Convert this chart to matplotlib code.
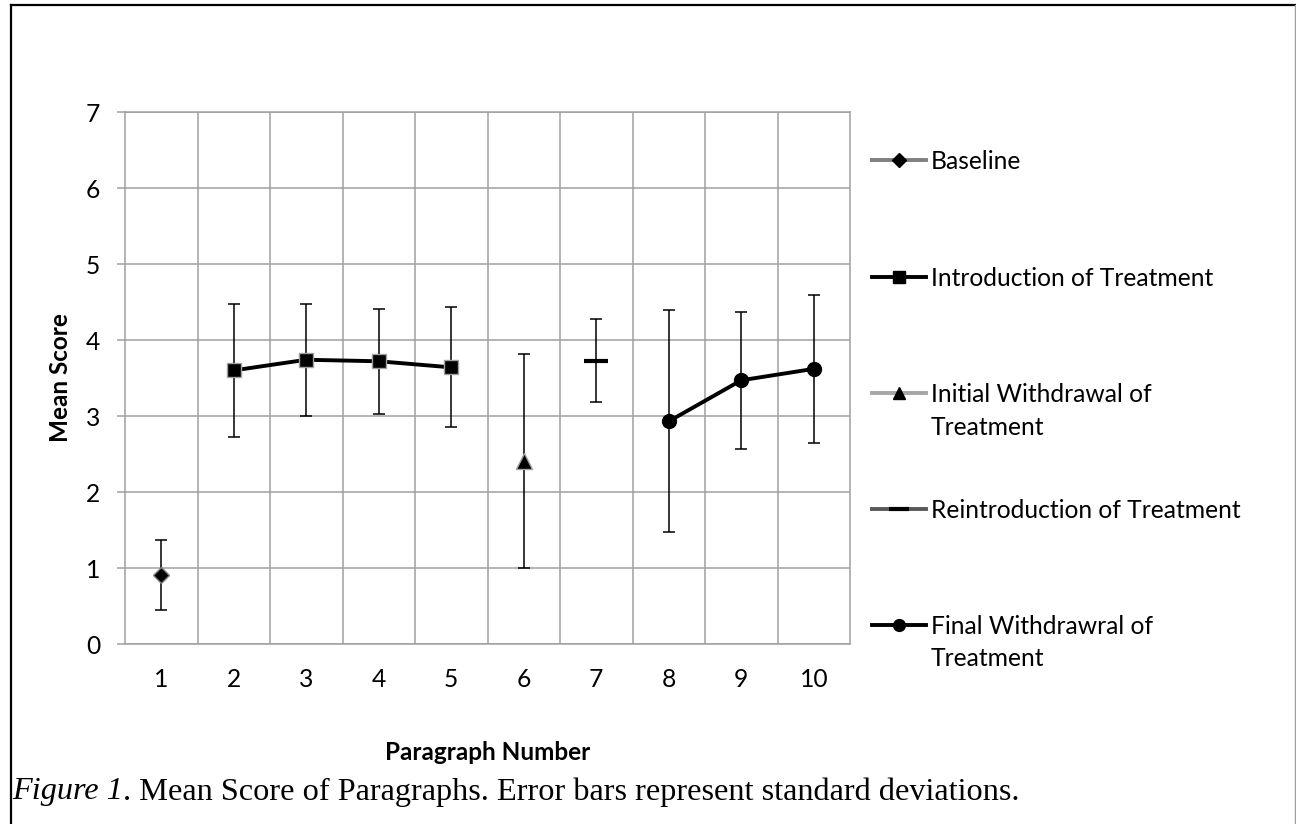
import numpy as np
import matplotlib.pyplot as plt
from matplotlib.lines import Line2D

# Data
paragraphs = [1, 2, 3, 4, 5, 6, 7, 8, 9, 10]
phase_names = ["Baseline", "Introduction of Treatment", "Initial Withdrawal of\nTreatment",
               "Reintroduction of Treatment", "Final Withdrawral of\nTreatment"]
phase_x = [[1], [2, 3, 4, 5], [6], [7], [8, 9, 10]]
phase_mean = [[0.91], [3.60, 3.74, 3.72, 3.64], [2.41], [3.73], [2.93, 3.47, 3.62]]
phase_sd = [[0.46], [0.88, 0.74, 0.69, 0.79], [1.41], [0.55], [1.46, 0.90, 0.97]]

line_colors = ["#7f7f7f", "#000000", "#a6a6a6", "#595959", "#000000"]
markers = ["D", "s", "^", "_", "o"]
marker_sizes = [8.5, 9.5, 11, 17, 10]
marker_edges = ["#7f7f7f", "#a0a0a0", "#a0a0a0", "#000000", "#000000"]
marker_ew = [1, 1, 1, 3, 1]

plt.rcParams['font.family'] = ['Lato', 'DejaVu Sans']
grid_c = "#a0a0a0"
fs = 17.7

fig = plt.figure(figsize=(12.96, 8.24), dpi=100)
ax = fig.add_axes([125 / 1296, 1 - 644 / 824, 725 / 1296, 532 / 824])

for i in range(len(phase_names)):
    ax.errorbar(phase_x[i], phase_mean[i], yerr=phase_sd[i], fmt="none",
                ecolor="black", elinewidth=1.1, capsize=4.4, capthick=1.1, zorder=3)
    ax.plot(phase_x[i], phase_mean[i], color="black", lw=2.8,
            marker=markers[i], ms=marker_sizes[i], mfc="black",
            mec=marker_edges[i], mew=marker_ew[i], zorder=4)

ax.set_xlim(0.5, 10.5)
ax.set_ylim(0, 7)
ax.set_xticks(paragraphs)
ax.set_yticks(range(0, 8))
ax.set_xticks(np.arange(1.5, 10.5, 1), minor=True)
ax.grid(True, which="minor", axis="x", color=grid_c, lw=1.1)
ax.grid(True, which="major", axis="y", color=grid_c, lw=1.1)
ax.tick_params(axis="x", which="both", length=0, pad=17, labelsize=fs)
ax.tick_params(axis="y", length=5.8, width=1.1, color=grid_c, pad=12, labelsize=fs)
for s in ax.spines.values():
    s.set_color(grid_c)
    s.set_linewidth(1.1)

ax.set_xlabel("Paragraph Number", fontsize=17.5, fontweight="bold", labelpad=36)
ax.set_ylabel("Mean Score", fontsize=17.5, fontweight="bold", labelpad=10)

# legend drawn by hand so the marker sits on the first text line
leg_y = [160, 277, 393, 509, 625]
for i in range(len(phase_names)):
    yy = 1 - leg_y[i] / 824
    fig.add_artist(Line2D([872 / 1296, 926 / 1296], [yy, yy], color=line_colors[i], lw=2.8))
    fig.add_artist(Line2D([899 / 1296], [yy], marker=markers[i], ms=marker_sizes[i] * 0.85,
                          mfc="black", mec="black", mew=marker_ew[i], ls="none"))
    fig.text(931 / 1296, 1 - (leg_y[i] - 10) / 824, phase_names[i], fontsize=fs,
             va="top", linespacing=1.5)

# caption in a serif face
cap_y = 1 - 792 / 824
cap1 = fig.text(12 / 1296, cap_y, "Figure 1", family="Liberation Serif",
                style="italic", fontsize=23.2, va="center")
fig.canvas.draw()
bb = cap1.get_window_extent()
fig.text(bb.x1 / 1296, cap_y,
         ". Mean Score of Paragraphs. Error bars represent standard deviations.",
         family="Liberation Serif", fontsize=23.2, va="center")

# outer frame
fig.add_artist(Line2D([11 / 1296, 1295 / 1296], [1 - 5 / 824, 1 - 5 / 824], color="black", lw=1.6))
fig.add_artist(Line2D([11 / 1296, 11 / 1296], [0, 1 - 5 / 824], color="black", lw=1.6))
fig.add_artist(Line2D([1295 / 1296, 1295 / 1296], [0, 1 - 5 / 824], color="#a0a0a0", lw=1))

fig.savefig("out.png", dpi=100)
